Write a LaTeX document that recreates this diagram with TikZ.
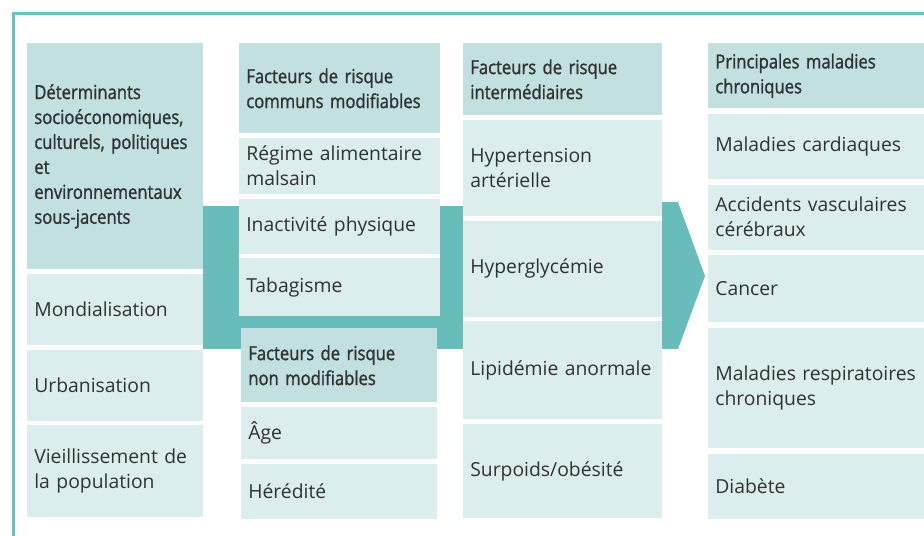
\documentclass[tikz,border=0pt]{standalone}
\usepackage{fontspec}
\newfontfamily\itmfont{Open Sans}
\newfontfamily\hdrfont[FakeStretch=0.86,FakeBold=1.2]{Open Sans}
\usetikzlibrary{positioning}

\definecolor{hdrfill}{HTML}{C2E0DF}
\definecolor{itmfill}{HTML}{DCEDED}
\definecolor{bandteal}{HTML}{68BCB9}
\definecolor{frameteal}{HTML}{6CC2BD}
\definecolor{txtgray}{HTML}{2F3333}

\begin{document}
\begin{tikzpicture}[
    x=0.02cm, y=-0.02cm,
    node distance=0.08cm,
    cell/.style={anchor=north west, align=left, inner xsep=0.14cm, inner ysep=0pt,
      text=txtgray},
    hdr/.style={cell, fill=hdrfill, font={\hdrfont\fontsize{11}{14.2}\selectfont}},
    itm/.style={cell, fill=itmfill, font={\itmfont\fontsize{11}{14.2}\selectfont}},
    colA/.style={text width=3.24cm},
    colB/.style={text width=3.74cm},
    colC/.style={text width=3.64cm},
    colD/.style={text width=3.70cm},
    colE/.style={text width=4.76cm},
    band/.style={fill=bandteal}
  ]
    \useasboundingbox (0,0) rectangle (924,536);
    \clip (0,0) rectangle (924,536);
    \draw[frameteal, line width=0.06cm] (13.5,600) -- (13.5,13.5) -- (1000,13.5);

    % teal bands
    \fill[band] (203,206) rectangle (463,349);
    \fill[white] (239,206) rectangle (440,314);
    \fill[band] (662,202) -- (678,202) -- (705,276) -- (678,349) -- (662,349) -- cycle;

    % determinants
    \node[hdr, colA, minimum height=4.52cm] (det) at (27,43)
      {Déterminants\\socioéconomiques,\\culturels, politiques\\et\\environnementaux\\sous-jacents};
    \node[itm, colA, minimum height=1.42cm, below=of det] (mond) {Mondialisation};
    \node[itm, colA, minimum height=1.42cm, below=of mond] (urb) {Urbanisation};
    \node[itm, colA, minimum height=1.84cm, below=of urb] (vieil) {Vieillissement de\\la population};

    % modifiable factors
    \node[hdr, colB, minimum height=1.80cm] (modif) at (239,43) {Facteurs de risque\\communs modifiables};
    \node[itm, colB, minimum height=1.12cm, below=of modif] (regime) {Régime alimentaire\\malsain};
    \node[itm, colB, minimum height=1.10cm, below=of regime] (inact) {Inactivité physique};
    \node[itm, colB, minimum height=1.16cm, below=of inact] (tabac) {Tabagisme};

    % non-modifiable factors
    \node[hdr, colC, minimum height=1.48cm] (nonmodif) at (241,328) {Facteurs de risque\\non modifiables};
    \node[itm, colC, minimum height=1.04cm, below=of nonmodif] (age) {Âge};
    \node[itm, colC, minimum height=1.10cm, below=of age] (hered) {Hérédité};

    % intermediate factors
    \node[hdr, colD, minimum height=1.44cm] (inter) at (463,43) {Facteurs de risque\\intermédiaires};
    \node[itm, colD, minimum height=1.92cm, below=of inter] (hta) {Hypertension\\artérielle};
    \node[itm, colD, minimum height=1.92cm, below=of hta] (glyc) {Hyperglycémie};
    \node[itm, colD, minimum height=1.96cm, below=of glyc] (lipid) {Lipidémie anormale};
    \node[itm, colD, minimum height=1.88cm, below=of lipid] (obes) {Surpoids/obésité};

    % chronic diseases
    \node[hdr, colE, minimum height=1.30cm] (malad) at (708,43) {Principales maladies\\chroniques};
    \node[itm, colE, minimum height=1.30cm, below=0.1cm of malad] (card) {Maladies cardiaques};
    \node[itm, colE, minimum height=1.30cm, below=0.1cm of card] (avc) {Accidents vasculaires\\cérébraux};
    \node[itm, colE, minimum height=1.34cm, below=0.1cm of avc] (cancer) {Cancer};
    \node[itm, colE, minimum height=2.40cm, below=0.1cm of cancer] (resp) {Maladies respiratoires\\chroniques};
    \node[itm, colE, minimum height=1.30cm, below=0.1cm of resp] (diab) {Diabète};
\end{tikzpicture}
\end{document}
